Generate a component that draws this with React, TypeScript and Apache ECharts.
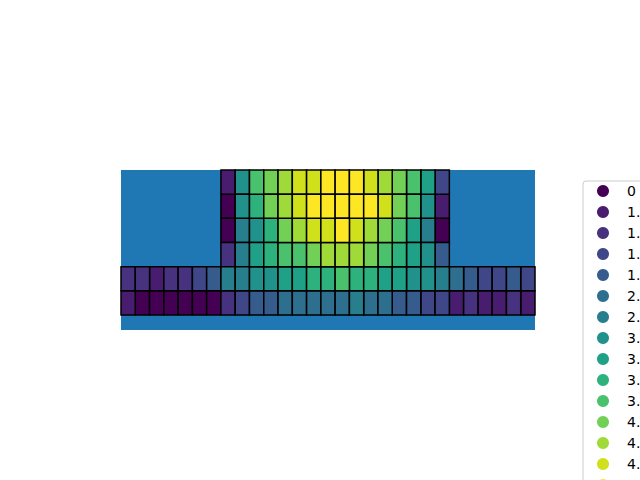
import React, { useEffect, useRef } from "react";
import * as echarts from "echarts";

// Level index (0..14) of each cell.
// Upper block: columns 7..22, four rows from top to bottom.
const upperStartCol = 7;
const upperRow1 = [1, 7, 10, 11, 12, 13, 13, 14, 14, 14, 13, 12, 11, 10, 8, 3];
const upperRow2 = [0, 7, 9, 11, 12, 13, 14, 14, 14, 14, 14, 13, 11, 10, 7, 1];
const upperRow3 = [0, 6, 7, 9, 11, 12, 13, 13, 14, 13, 12, 11, 10, 8, 6, 0];
const upperRow4 = [2, 6, 8, 9, 10, 10, 11, 12, 12, 12, 11, 10, 9, 8, 7, 4];
// Lower block: all 29 columns, two rows from top to bottom.
const lowerRow1 = [2, 2, 1, 2, 2, 3, 4, 6, 6, 7, 7, 8, 8, 9, 9, 10, 9, 9, 8, 8, 7, 7, 6, 5, 4, 3, 3, 4, 3];
const lowerRow2 = [1, 0, 0, 0, 0, 0, 0, 2, 3, 4, 4, 5, 5, 5, 5, 5, 6, 5, 5, 4, 4, 3, 3, 1, 2, 1, 1, 2, 1];

const columnCount = 29;
const legendLabels = ["0", "1.1", "1.3", "1.5", "1.8", "2.1", "2.5", "3.0", "3.3", "3.6", "3.9", "4.2", "4.5", "4.8", "5.0"];
const levelColors = [
  "#440154", "#481c6e", "#46327e", "#3f4788", "#365c8d",
  "#2e6e8e", "#277f8e", "#21918c", "#1fa188", "#2db27d",
  "#4ac16d", "#73d056", "#a0da39", "#d0e11c", "#fde725",
];

function buildCells(): number[][][] {
  const byLevel: number[][][] = legendLabels.map(() => []);
  const upper = [upperRow1, upperRow2, upperRow3, upperRow4];
  upper.forEach((row, r) => {
    const yIdx = 5 - r;
    row.forEach((lvl, c) => byLevel[lvl].push([upperStartCol + c, yIdx]));
  });
  const lower = [lowerRow1, lowerRow2];
  lower.forEach((row, r) => {
    const yIdx = 1 - r;
    row.forEach((lvl, c) => byLevel[lvl].push([c, yIdx]));
  });
  return byLevel;
}

export default function App() {
  const ref = useRef<HTMLDivElement>(null);
  useEffect(() => {
    if (!ref.current) return;
    const chart = echarts.init(ref.current, undefined, { renderer: "svg" });
    const cells = buildCells();
    const series = legendLabels.map((name, i) => ({
      type: "custom",
      name,
      itemStyle: { color: levelColors[i] },
      data: cells[i],
      renderItem: (params: any, api: any) => {
        const x = api.value(0);
        const y = api.value(1);
        const p0 = api.coord([x, y + 1]);
        const p1 = api.coord([x + 1, y]);
        return {
          type: "rect",
          shape: { x: p0[0], y: p0[1], width: p1[0] - p0[0], height: p1[1] - p0[1] },
          style: { fill: levelColors[i], stroke: "#000000", lineWidth: 1.5 },
        };
      },
    }));
    chart.setOption({
      animation: false,
      grid: {
        left: 121,
        top: 170,
        width: 414,
        height: 160,
        show: true,
        backgroundColor: "#1f77b4",
        borderWidth: 0,
      },
      xAxis: { type: "value", min: 0, max: columnCount, show: false, splitLine: { show: false } },
      yAxis: { type: "value", min: -0.62, max: 6, show: false, splitLine: { show: false } },
      legend: {
        orient: "vertical",
        left: 583,
        top: 181,
        height: 420,
        padding: [3, 40, 4, 14],
        itemWidth: 12,
        itemHeight: 12,
        itemGap: 7,
        icon: "circle",
        borderColor: "#cccccc",
        borderWidth: 1,
        borderRadius: 3,
        backgroundColor: "#ffffff",
        textStyle: {
          fontFamily: "DejaVu Sans",
          fontSize: 14,
          lineHeight: 12,
          color: "#000000",
          padding: [0, 0, 0, 13],
        },
        data: legendLabels,
      },
      series,
    } as any);
    return () => chart.dispose();
  }, []);
  return (
    <div
      ref={ref}
      style={{ position: "fixed", left: 0, top: 0, width: 640, height: 480, background: "#ffffff" }}
    />
  );
}
